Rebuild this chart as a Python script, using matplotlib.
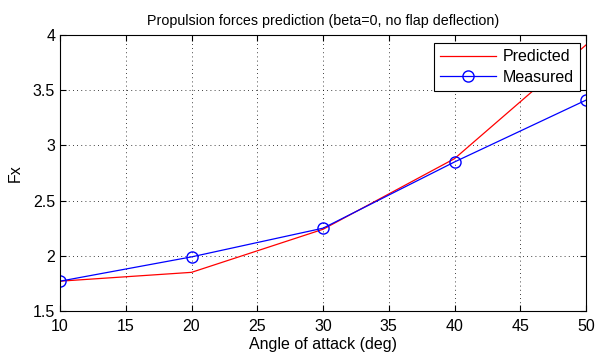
import matplotlib
matplotlib.use("Agg")
import matplotlib.pyplot as plt

plt.rcParams['font.family'] = ['Liberation Sans', 'DejaVu Sans']

# angle of attack (deg)
angle = [10, 20, 30, 40, 50]
# Fx values
fx_predicted = [1.77, 1.85, 2.24, 2.88, 3.91]
fx_measured = [1.77, 1.99, 2.25, 2.85, 3.41]

fig = plt.figure(figsize=(5.96, 3.54), dpi=100)
ax = fig.add_axes([0.1007, 0.1215, 0.8826, 0.7797])

ax.plot(angle, fx_predicted, color='red', lw=0.9, label='Predicted')
ax.plot(angle, fx_measured, color='blue', lw=0.9, marker='o', ms=8,
        mfc='none', mec='blue', label='Measured')

ax.set_xlim(10, 50)
ax.set_ylim(1.5, 4)
ax.set_xticks([10, 15, 20, 25, 30, 35, 40, 45, 50])
ax.set_yticks([1.5, 2, 2.5, 3, 3.5, 4])
ax.set_yticklabels(['1.5', '2', '2.5', '3', '3.5', '4'])
ax.grid(True, color='black', linestyle=(0, (1, 4)), lw=0.6)
ax.tick_params(direction='in', top=True, right=True, labelsize=11.5, length=4)
ax.tick_params(axis='x', pad=6)
for s in ax.spines.values():
    s.set_linewidth(0.8)

ax.set_xlabel('Angle of attack (deg)', fontsize=11.5, labelpad=2)
ax.set_ylabel('Fx', fontsize=11.5, labelpad=7)
ax.set_title('Propulsion forces prediction (beta=0, no flap deflection)', fontsize=10.3, pad=7)

leg = ax.legend(loc='upper right', bbox_to_anchor=(0.9886, 0.972), borderaxespad=0,
                fontsize=11.5, fancybox=False, framealpha=1,
                edgecolor='black', handlelength=3.5, handletextpad=0.4,
                borderpad=0.4, labelspacing=0.35)
leg.get_frame().set_linewidth(0.8)

fig.savefig('out.png', dpi=100)
